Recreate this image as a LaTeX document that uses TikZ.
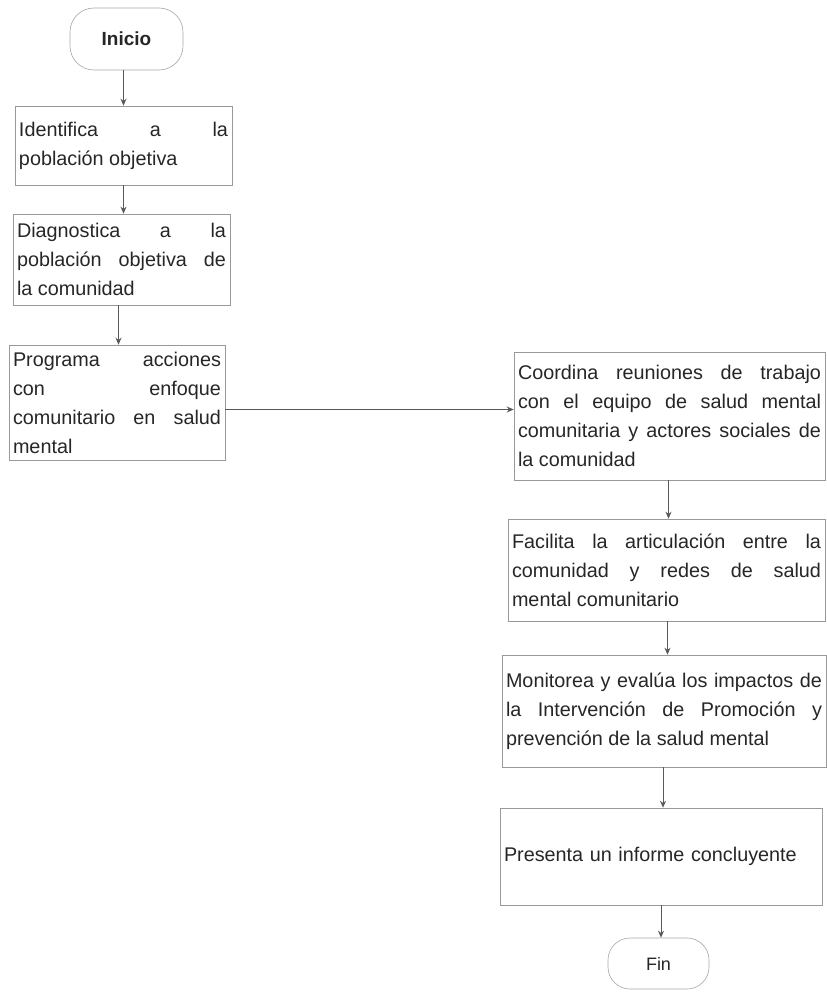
\documentclass[tikz,border=0pt]{standalone}
\usepackage{fontspec}
\setmainfont{Liberation Sans}
\usetikzlibrary{arrows.meta}
\begin{document}
\begin{tikzpicture}[x=1pt,y=-1pt,
  box/.style={draw=black!40, line width=0.6pt, rectangle, inner xsep=4pt, inner ysep=3pt,
    align=justify, text=black!85, font=\fontsize{19.8}{29}\selectfont},
  term/.style={draw=black!35, line width=0.6pt, rounded corners=24pt, text=black!85},
  arr/.style={draw=black!65, line width=1pt, -{Stealth[length=7pt,width=6pt]}}
]
\useasboundingbox (0,0) rectangle (827,996);

\node[term, minimum width=113pt, minimum height=62pt, font=\fontsize{19}{22}\selectfont\bfseries] (ini) at (126.5,39) {Inicio};

\node[box, text width=209pt, minimum height=79pt] (b1) at (123.5,145.5)
  {Identifica a la\linebreak población objetiva};
\node[box, text width=209pt, minimum height=91pt] (b2) at (121.5,259.5)
  {Diagnostica a la\linebreak población objetiva de\linebreak la comunidad};
\node[box, text width=208pt, minimum height=115pt] (b3) at (117,402.5)
  {Programa acciones\linebreak con enfoque\linebreak comunitario en salud\linebreak mental};

\node[box, text width=303pt, minimum height=128pt] (c1) at (669.5,416)
  {Coordina reuniones de trabajo\linebreak con el equipo de salud mental\linebreak comunitaria y actores sociales de\linebreak la comunidad};
\node[box, text width=309pt, minimum height=102pt] (c2) at (666.5,570)
  {Facilita la articulación entre la\linebreak comunidad y redes de salud\linebreak mental comunitario};
\node[box, text width=316pt, minimum height=112pt] (c3) at (664,711)
  {Monitorea y evalúa los impactos de\linebreak la Intervención de Promoción y\linebreak prevención de la salud mental};
\node[box, text width=314pt, minimum height=97pt, align=left] (c4) at (661,856.5)
  {Presenta un informe concluyente};

\node[term, rounded corners=22pt, minimum width=101pt, minimum height=51pt, font=\fontsize{18}{22}\selectfont] (fin) at (658.5,963.5) {Fin};

\draw[arr] ([xshift=-3pt]ini.south) -- ([xshift=-3pt]ini.south |- b1.north);
\draw[arr] (b1.south) -- (b1.south |- b2.north);
\draw[arr] ([xshift=-3pt]b2.south) -- ([xshift=-3pt]b2.south |- b3.north);
\draw[arr] ([yshift=-7pt]b3.east) -- ([yshift=-7pt]b3.east -| c1.west);
\draw[arr] ([xshift=-1pt]c1.south) -- ([xshift=-1pt]c1.south |- c2.north);
\draw[arr] ([xshift=1pt]c2.south) -- ([xshift=1pt]c2.south |- c3.north);
\draw[arr] ([xshift=-1pt]c3.south) -- ([xshift=-1pt]c3.south |- c4.north);
\draw[arr] (c4.south) -- (c4.south |- fin.north);
\end{tikzpicture}
\end{document}
